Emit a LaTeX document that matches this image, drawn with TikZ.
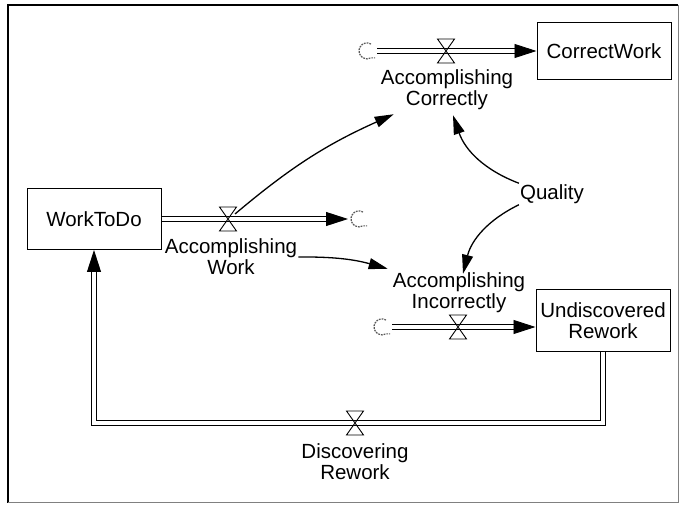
\documentclass[tikz,border=0pt]{standalone}
\usepackage{fontspec}
\setmainfont{Liberation Sans}
\usetikzlibrary{arrows.meta}
\tikzset{
  stock/.style={draw, line width=1pt, minimum width=134pt, inner sep=2pt, align=center},
  flowtext/.style={align=center, inner sep=1pt},
  pipe/.style={double, double distance=3.5pt, line width=0.9pt, line join=miter, -{Triangle[length=22pt,width=14pt]}},
  link/.style={line width=1.3pt, -{Triangle[length=19pt,width=11pt]}},
  valve/.pic={\draw[line width=0.9pt] (-8.5,12) -- (8.5,12) -- (-8.5,-12) -- (8.5,-12) -- cycle;},
  cloud/.pic={\draw[black!65, line width=1.2pt, dash pattern=on 1.8pt off 1pt] (4,7) arc (60:300:8) -- ++(4,0);}
}
\begin{document}
\begin{tikzpicture}[x=1pt, y=1pt, font=\fontsize{20.5}{21}\selectfont]
\useasboundingbox (0,0) rectangle (680,504);
% frame
\draw[line width=1.8pt] (678,499) -- (8,499) -- (8,1.5);
\draw[gray, line width=1pt] (8,1.5) -- (678,1.5) -- (678,499);

% stocks
\node[stock, minimum height=61pt] (WorkToDo) at (94,285) {WorkToDo};
\node[stock, minimum height=57pt] (CorrectWork) at (604,453) {CorrectWork};
\node[stock, minimum height=61pt] (Rework) at (603,183.5) {Undiscovered\\Rework};

% clouds and valves
\coordinate (cAC) at (367,453);
\coordinate (cAW) at (359,285);
\coordinate (cAI) at (382,177);
\coordinate (vAC) at (446,453);
\coordinate (vAW) at (228,285);
\coordinate (vAI) at (458,177);
\coordinate (vDR) at (355,81);

% flows
\draw[pipe] ([xshift=10]cAC) -- (CorrectWork.west);
\draw[pipe] (WorkToDo.east) -- ([xshift=-11]cAW);
\draw[pipe] ([xshift=10]cAI) -- (cAI -| Rework.west);
\draw[pipe] (Rework.south) |- (vDR) -| (WorkToDo.south);
\foreach \c in {cAC,cAW,cAI} \pic at (\c) {cloud};
\foreach \v in {vAC,vAW,vAI,vDR} \pic at (\v) {valve};

% rate names and auxiliary
\node[flowtext] (lblAC) at (447,414) {Accomplishing\\Correctly};
\node[flowtext] (lblAW) at (231,247) {Accomplishing\\Work};
\node[flowtext] (lblAI) at (459,211) {Accomplishing\\Incorrectly};
\node[flowtext] (lblDR) at (355,42) {Discovering\\Rework};
\node[flowtext] (Quality) at (552,310) {Quality};

% links
\draw[link] ([shift={(7,5)}]vAW) to[bend left=8] ([shift={(14,-3)}]lblAC.south west);
\draw[link] (Quality.north west) to[bend left=25] ([shift={(6,-4)}]lblAC.south);
\draw[link] (Quality.south west) to[bend right=25] ([shift={(4,-2)}]lblAI.north);
\draw[link] (lblAW.east) to[bend left=8] ([shift={(-4,3)}]lblAI.north west);
\end{tikzpicture}
\end{document}
